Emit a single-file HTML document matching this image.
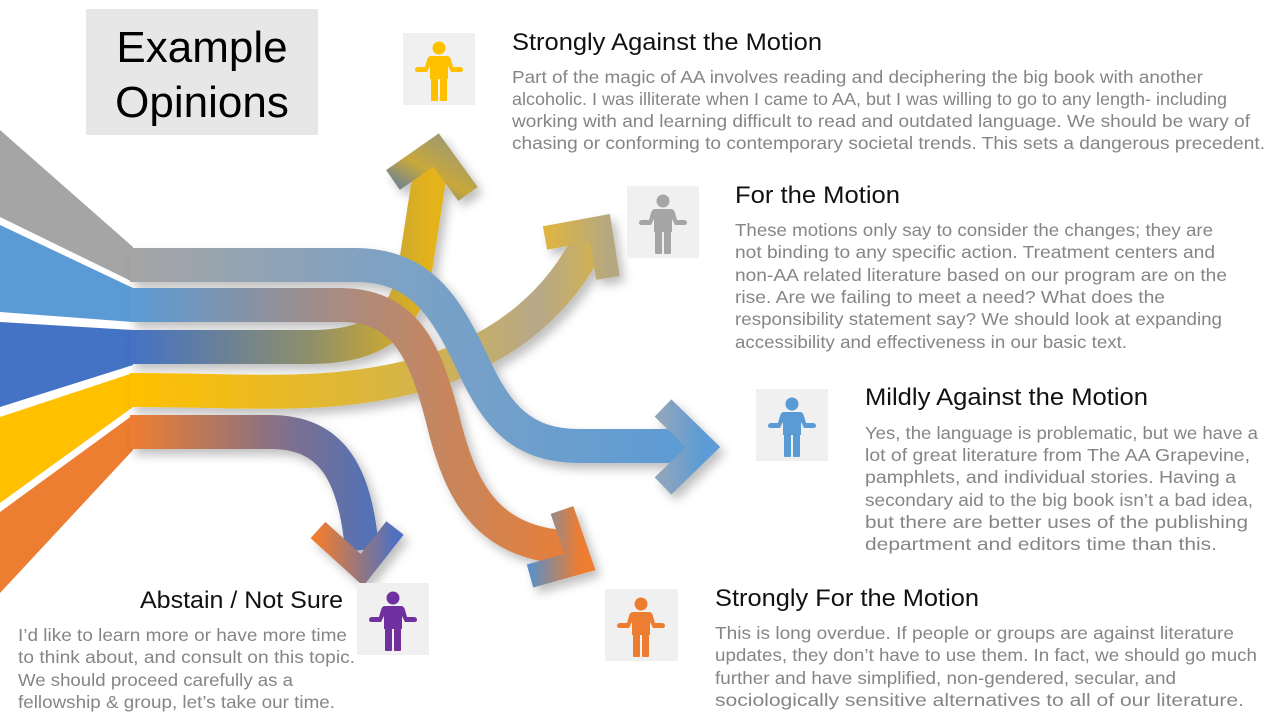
<!DOCTYPE html>
<html><head><meta charset="utf-8"><style>
html,body{margin:0;padding:0;background:#fff;}
svg{display:block;}
.b{font-family:"Liberation Sans",sans-serif;font-size:17.5px;fill:#858585;}
.h{font-family:"Liberation Sans",sans-serif;font-size:24px;fill:#111;}
</style></head><body>
<svg width="1280" height="720" viewBox="0 0 1280 720" xmlns="http://www.w3.org/2000/svg">
<defs>
<filter id="sh" x="-20%" y="-20%" width="140%" height="140%">
<feDropShadow dx="5" dy="6" stdDeviation="5" flood-color="#000" flood-opacity="0.25"/>
</filter>
<linearGradient id="gGray" gradientUnits="userSpaceOnUse" x1="133" y1="0" x2="700" y2="0">
<stop offset="0" stop-color="#a5a5a5"/><stop offset="0.45" stop-color="#7ea2c4"/><stop offset="1" stop-color="#5b9bd5"/></linearGradient>
<linearGradient id="gBlue" gradientUnits="userSpaceOnUse" x1="133" y1="0" x2="590" y2="0">
<stop offset="0" stop-color="#5b9bd5"/><stop offset="0.5" stop-color="#b08a78"/><stop offset="1" stop-color="#ed7d31"/></linearGradient>
<linearGradient id="gDark" gradientUnits="userSpaceOnUse" x1="133" y1="0" x2="430" y2="0">
<stop offset="0" stop-color="#4472c4"/><stop offset="0.6" stop-color="#8f8f6a"/><stop offset="1" stop-color="#e4b31a"/></linearGradient>
<linearGradient id="gYel" gradientUnits="userSpaceOnUse" x1="133" y1="0" x2="610" y2="0">
<stop offset="0" stop-color="#ffc000"/><stop offset="0.6" stop-color="#d4b44a"/><stop offset="0.85" stop-color="#b6a88a"/><stop offset="1" stop-color="#d8b445"/></linearGradient>
<linearGradient id="gOr" gradientUnits="userSpaceOnUse" x1="133" y1="0" x2="400" y2="0">
<stop offset="0" stop-color="#ed7d31"/><stop offset="0.6" stop-color="#7b7090"/><stop offset="1" stop-color="#4472c4"/></linearGradient>
<linearGradient id="aUp" x1="0" y1="1" x2="1" y2="0"><stop offset="0" stop-color="#5a7aa8"/><stop offset="0.5" stop-color="#c8a83a"/><stop offset="1" stop-color="#a09a70"/></linearGradient>
<linearGradient id="aR" x1="0" y1="0" x2="1" y2="0"><stop offset="0" stop-color="#e0b540"/><stop offset="1" stop-color="#b5a880"/></linearGradient>
<linearGradient id="aB" x1="0" y1="0" x2="1" y2="0"><stop offset="0" stop-color="#8ea5bd"/><stop offset="1" stop-color="#5b9bd5"/></linearGradient>
<linearGradient id="aO" x1="0" y1="0" x2="1" y2="0"><stop offset="0" stop-color="#5b8fc8"/><stop offset="1" stop-color="#ed7d31"/></linearGradient>
<linearGradient id="aP" x1="0" y1="0" x2="1" y2="0"><stop offset="0" stop-color="#ed7d31"/><stop offset="1" stop-color="#5070c0"/></linearGradient>
<g id="man">
<circle cx="36" cy="15" r="6.5"/>
<path d="M28 23 H44 Q47 23 48 27 L50 34 H57 Q60 34 60 37 Q60 39 57 39 H48 L45 33 V46 H27 V33 L24 39 H15 Q12 39 12 37 Q12 34 15 34 H22 L24 27 Q25 23 28 23 Z"/>
<rect x="28" y="44" width="7" height="24" rx="1"/>
<rect x="37" y="44" width="7" height="24" rx="1"/>
</g>
</defs>

<rect x="86" y="9" width="232" height="126" fill="#e7e7e7"/>
<text x="202" y="62" text-anchor="middle" style="font-family:'Liberation Sans',sans-serif;font-size:44px;fill:#000">Example</text>
<text x="202" y="117" text-anchor="middle" style="font-family:'Liberation Sans',sans-serif;font-size:44px;fill:#000">Opinions</text>

<polygon points="0,130 133,247 133,282 0,217" fill="#a5a5a5"/>
<polygon points="0,225 133,288 133,322 0,312" fill="#5b9bd5"/>
<polygon points="0,322 133,330 133,365 0,407" fill="#4472c4"/>
<polygon points="0,417 133,373 133,407 0,503" fill="#ffc000"/>
<polygon points="0,512 133,415 133,450 0,593" fill="#ed7d31"/>

<g filter="url(#sh)" fill="none" stroke-linejoin="miter">
<path d="M130 390 C260 390 330 400 430 372 C510 345 560 300 590 240" stroke="url(#gYel)" stroke-width="34"/>
<polyline points="545,238 600,228 608,278" stroke="url(#aR)" stroke-width="24"/>
<path d="M130 347 L310 347 C380 347 405 320 415 270 L432 160" stroke="url(#gDark)" stroke-width="34"/>
<polyline points="393,180 436,150 468,194" stroke="url(#aUp)" stroke-width="24"/>
<path d="M130 432 L270 432 C330 432 355 470 362 550" stroke="url(#gOr)" stroke-width="34"/>
<polyline points="318,530 362,570 395,528" stroke="url(#aP)" stroke-width="22"/>
<path d="M130 305 L340 305 C405 305 425 350 443 420 C462 500 492 545 575 548" stroke="url(#gBlue)" stroke-width="34"/>
<polyline points="562,510 580,562 530,576" stroke="url(#aO)" stroke-width="24"/>
<path d="M130 265 L355 265 C420 265 445 305 472 362 C497 417 522 446 580 446 L690 446" stroke="url(#gGray)" stroke-width="34"/>
<polyline points="663,408 703,447 663,486" stroke="url(#aB)" stroke-width="24"/>
</g>

<rect x="403" y="33" width="72" height="72" fill="#f0f0f0"/><use href="#man" x="403" y="33" fill="#ffc000"/>
<rect x="627" y="186" width="72" height="72" fill="#f0f0f0"/><use href="#man" x="627" y="186" fill="#a5a5a5"/>
<rect x="756" y="389" width="72" height="72" fill="#f0f0f0"/><use href="#man" x="756" y="389" fill="#5b9bd5"/>
<rect x="357" y="583" width="72" height="72" fill="#f0f0f0"/><use href="#man" x="357" y="583" fill="#7030a0"/>
<rect x="605" y="589" width="73" height="72" fill="#f0f0f0"/><use href="#man" x="605" y="589" fill="#ed7d31"/>

<text class="h" x="512" y="50" textLength="310" lengthAdjust="spacingAndGlyphs">Strongly Against the Motion</text>
<text class="b" x="512" y="83" textLength="691" lengthAdjust="spacingAndGlyphs">Part of the magic of AA involves reading and deciphering the big book with another</text>
<text class="b" x="512" y="105" textLength="715" lengthAdjust="spacingAndGlyphs">alcoholic. I was illiterate when I came to AA, but I was willing to go to any length- including</text>
<text class="b" x="512" y="127" textLength="738" lengthAdjust="spacingAndGlyphs">working with and learning difficult to read and outdated language. We should be wary of</text>
<text class="b" x="512" y="149" textLength="753" lengthAdjust="spacingAndGlyphs">chasing or conforming to contemporary societal trends.  This sets a dangerous precedent.</text>

<text class="h" x="735" y="203" textLength="165" lengthAdjust="spacingAndGlyphs">For the Motion</text>
<text class="b" x="735" y="236" textLength="478" lengthAdjust="spacingAndGlyphs">These motions only say to consider the changes; they are</text>
<text class="b" x="735" y="258" textLength="480" lengthAdjust="spacingAndGlyphs">not binding to any specific action. Treatment centers and</text>
<text class="b" x="735" y="281" textLength="492" lengthAdjust="spacingAndGlyphs">non-AA related literature based on our program are on the</text>
<text class="b" x="735" y="303" textLength="430" lengthAdjust="spacingAndGlyphs">rise. Are we failing to meet a need?  What does the</text>
<text class="b" x="735" y="325" textLength="487" lengthAdjust="spacingAndGlyphs">responsibility statement say? We should look at expanding</text>
<text class="b" x="735" y="348" textLength="392" lengthAdjust="spacingAndGlyphs">accessibility and effectiveness in our basic text.</text>

<text class="h" x="865" y="405" textLength="283" lengthAdjust="spacingAndGlyphs">Mildly Against the Motion</text>
<text class="b" x="865" y="439" textLength="393" lengthAdjust="spacingAndGlyphs">Yes, the language is problematic, but we have a</text>
<text class="b" x="865" y="461" textLength="385" lengthAdjust="spacingAndGlyphs">lot of great literature from The AA Grapevine,</text>
<text class="b" x="865" y="483" textLength="371" lengthAdjust="spacingAndGlyphs">pamphlets, and individual stories. Having a</text>
<text class="b" x="865" y="506" textLength="388" lengthAdjust="spacingAndGlyphs">secondary aid to the big book isn’t a bad idea,</text>
<text class="b" x="865" y="528" textLength="383" lengthAdjust="spacingAndGlyphs">but there are better uses of the publishing</text>
<text class="b" x="865" y="550" textLength="352" lengthAdjust="spacingAndGlyphs">department and editors time than this.</text>

<text class="h" x="715" y="606" textLength="264" lengthAdjust="spacingAndGlyphs">Strongly For the Motion</text>
<text class="b" x="715" y="639" textLength="519" lengthAdjust="spacingAndGlyphs">This is long overdue.  If people or groups are against literature</text>
<text class="b" x="715" y="661" textLength="542" lengthAdjust="spacingAndGlyphs">updates, they don’t have to use them. In fact, we should go much</text>
<text class="b" x="715" y="684" textLength="461" lengthAdjust="spacingAndGlyphs">further and have simplified, non-gendered, secular, and</text>
<text class="b" x="715" y="706" textLength="529" lengthAdjust="spacingAndGlyphs">sociologically sensitive alternatives to all of our literature.</text>

<text class="h" x="140" y="608" textLength="203" lengthAdjust="spacingAndGlyphs">Abstain / Not Sure</text>
<text class="b" x="18" y="641" textLength="329" lengthAdjust="spacingAndGlyphs">I’d like to learn more or have more time</text>
<text class="b" x="18" y="663" textLength="337" lengthAdjust="spacingAndGlyphs">to think about, and consult on this topic.</text>
<text class="b" x="18" y="686" textLength="275" lengthAdjust="spacingAndGlyphs">We should proceed carefully as a</text>
<text class="b" x="18" y="708" textLength="317" lengthAdjust="spacingAndGlyphs">fellowship &amp; group, let’s take our time.</text>
</svg>
</body></html>
